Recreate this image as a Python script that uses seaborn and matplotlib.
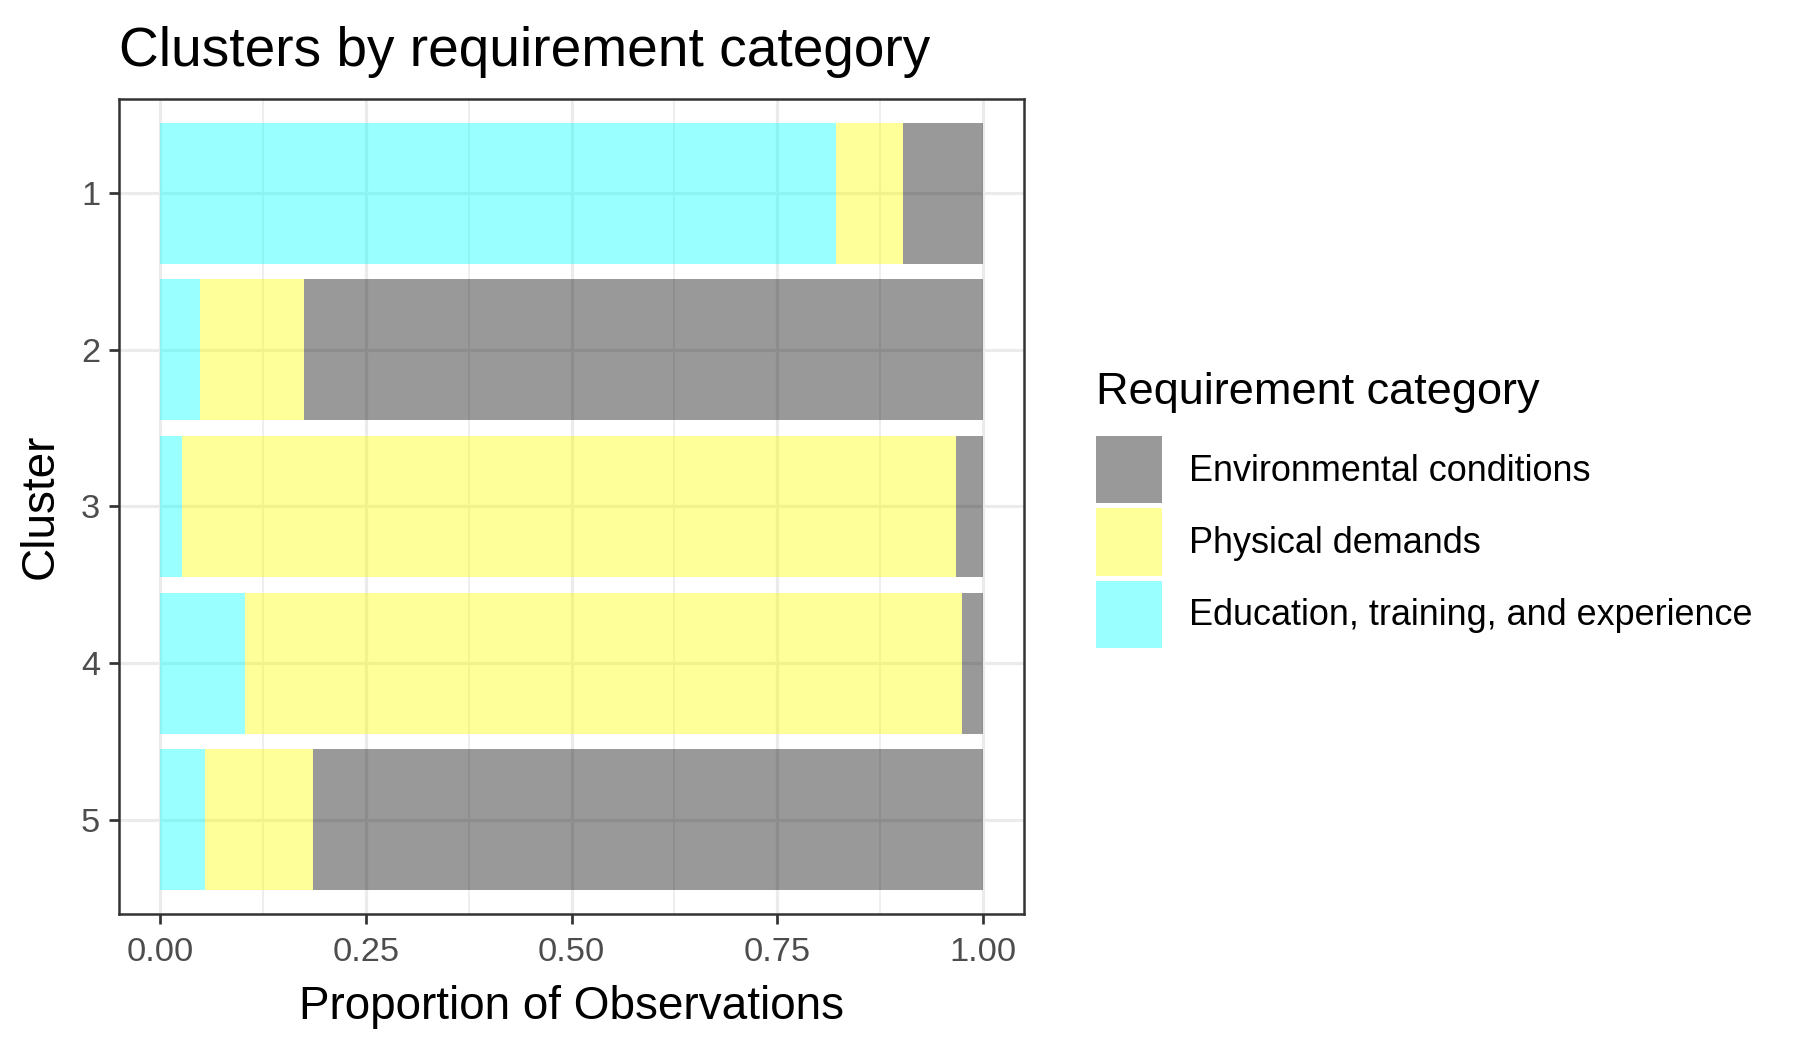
import pandas as pd
import seaborn as sns
import matplotlib.pyplot as plt
import matplotlib.patches as mpatches

clusters = [1, 2, 3, 4, 5]
categories = ["Environmental conditions", "Physical demands",
              "Education, training, and experience"]
# proportions per cluster
education = [0.821, 0.049, 0.027, 0.103, 0.055]
physical = [0.082, 0.126, 0.940, 0.872, 0.131]
environmental = [0.097, 0.825, 0.033, 0.025, 0.814]
colors = ["black", "yellow", "cyan"]

rows = []
for i, c in enumerate(clusters):
    rows.append((c, categories[0], environmental[i]))
    rows.append((c, categories[1], physical[i]))
    rows.append((c, categories[2], education[i]))
df = pd.DataFrame(rows, columns=["cluster", "category", "proportion"])

sns.set_theme(style="white")
plt.rcParams["font.family"] = ["Liberation Sans", "DejaVu Sans"]
plt.rcParams["text.color"] = "black"
plt.rcParams["axes.labelcolor"] = "black"

fig = plt.figure(figsize=(12, 7), dpi=150)
ax = fig.add_axes([119 / 1800, 1 - 914 / 1050, 905 / 1800, 815 / 1050])

sns.histplot(
    data=df, y="cluster", hue="category", weights="proportion",
    hue_order=categories, palette=colors, multiple="stack", discrete=True,
    shrink=0.9, alpha=0.4, linewidth=0, legend=False, ax=ax,
)

ax.set_xlim(-0.05, 1.05)
ax.set_ylim(5.6, 0.4)
ax.set_xticks([0, 0.25, 0.5, 0.75, 1.0])
ax.set_xticklabels(["0.00", "0.25", "0.50", "0.75", "1.00"])
ax.set_xticks([0.125, 0.375, 0.625, 0.875], minor=True)
ax.set_yticks(clusters)
ax.set_yticklabels([str(c) for c in clusters])

ax.set_axisbelow(True)
ax.grid(which="major", color="#EBEBEB", linewidth=1.5)
ax.grid(which="minor", axis="x", color="#EBEBEB", linewidth=0.8)
for s in ax.spines.values():
    s.set_visible(True)
    s.set_color("#333333")
    s.set_linewidth(1.2)

ax.tick_params(which="major", length=5, width=1.3, color="#333333",
               labelsize=16.5, labelcolor="#4D4D4D", pad=4,
               bottom=True, left=True)
ax.tick_params(axis="x", which="major", pad=6)
ax.tick_params(which="minor", length=0)

ax.set_xlabel("Proportion of Observations", fontsize=22, labelpad=8)
ax.set_ylabel("Cluster", fontsize=22, labelpad=9)
ax.set_title("Clusters by requirement category", loc="left",
             fontsize=26.4, pad=16, color="black")

handles = [mpatches.Patch(facecolor=c, alpha=0.4, linewidth=0) for c in colors]
leg = fig.legend(
    handles, categories, title="Requirement category",
    loc="upper left", bbox_to_anchor=(1096 / 1800, 1 - 372 / 1050),
    frameon=False, fontsize=17.3, title_fontsize=21.7, alignment="left",
    handlelength=1.82, handleheight=2.5, labelspacing=0.14,
    handletextpad=0.76, borderpad=0, borderaxespad=0,
)
leg._legend_box.sep = 11  # gap between legend title and keys (points)

fig.savefig("out.png", dpi=150)
